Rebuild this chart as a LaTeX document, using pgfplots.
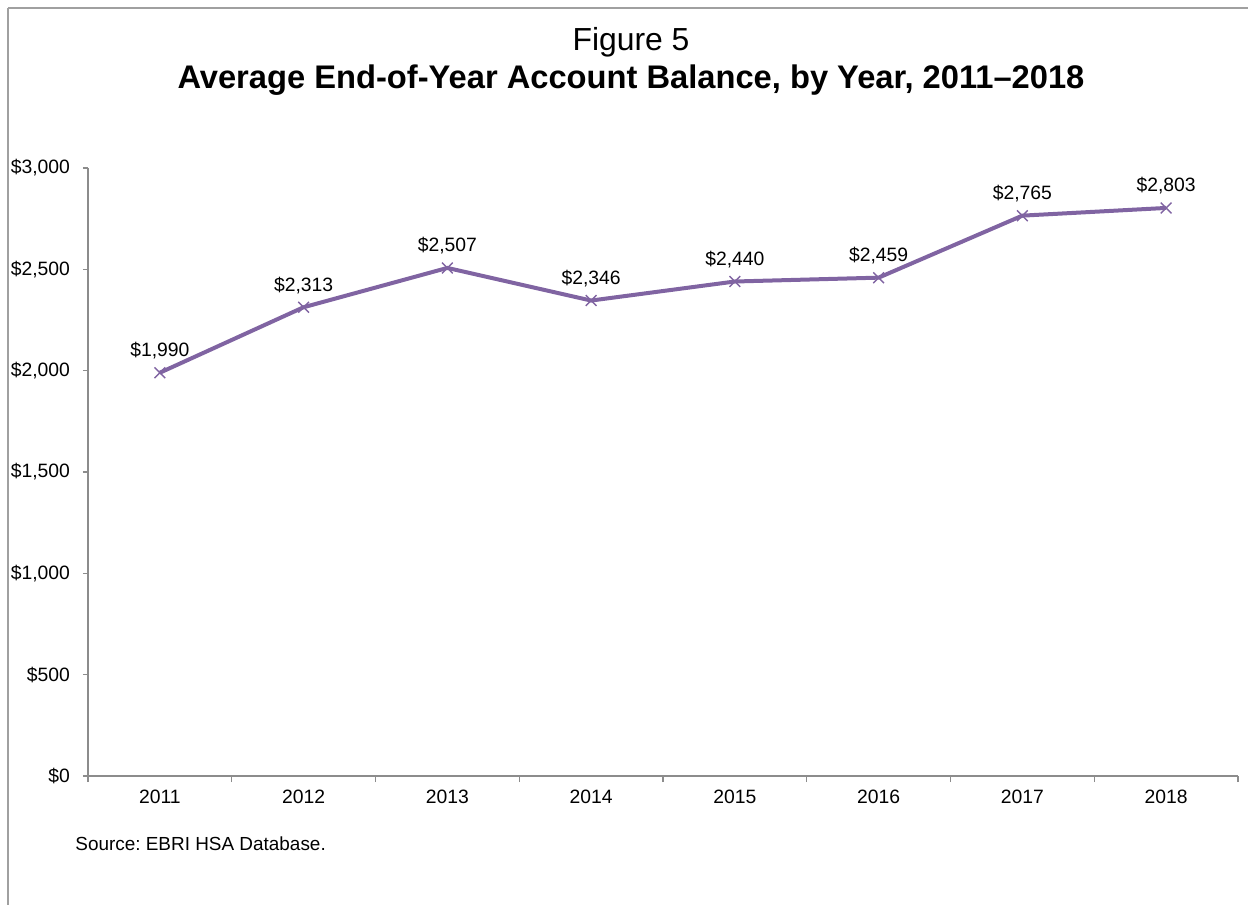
\documentclass[border=0pt]{standalone}
\usepackage{fontspec}
\setmainfont{Liberation Sans}
\usepackage{pgfplots}
\pgfplotsset{compat=1.18}
\definecolor{linepurple}{HTML}{8064A2}
\definecolor{axgray}{HTML}{8C8C8C}
\definecolor{framegray}{HTML}{A0A0A0}
\begin{document}
\begin{tikzpicture}
\path[use as bounding box] (0,0) rectangle (624bp,-452.5bp);
\draw[framegray, line width=0.7bp] (4bp,-4bp) -- (624bp,-4bp);
\draw[framegray, line width=0.7bp] (4bp,-4bp) -- (4bp,-452.5bp);
\node[anchor=base, font=\fontsize{16}{19}\selectfont] at (315.5bp,-25bp) {Figure 5};
\node[anchor=base, font=\fontsize{16.4}{19}\selectfont\bfseries] at (315.5bp,-44bp) {Average End-of-Year Account Balance, by Year, 2011--2018};
\node[anchor=base west, inner sep=0pt, font=\fontsize{9.5}{11}\selectfont] at (37.5bp,-425bp) {\frenchspacing Source: EBRI HSA Database.};
\begin{axis}[
  at={(44bp,-388bp)}, anchor=south west,
  scale only axis, width=575bp, height=304bp,
  xmin=-0.5, xmax=7.5, ymin=0, ymax=3000,
  axis lines*=left,
  axis line style={axgray, line width=0.6bp},
  xtick={0,...,7},
  xticklabels={2011,2012,2013,2014,2015,2016,2017,2018},
  minor xtick={-0.5,0.5,...,7.5},
  ytick={0,500,...,3000},
  tick align=outside,
  major x tick style={draw=none},
  minor tick style={axgray, line width=0.6bp},
  major y tick style={axgray, line width=0.6bp},
  minor tick length=3bp,
  major tick length=2.5bp,
  /pgf/number format/assume math mode=true,
  /pgf/number format/1000 sep={,},
  yticklabel={\$\pgfmathprintnumber{\tick}},
  ticklabel style={font=\fontsize{9.7}{11}\selectfont},
  xticklabel style={yshift=-1bp},
  yticklabel style={xshift=-3bp},
  clip=false,
]
\addplot[linepurple, line width=2bp, mark=x, mark size=3.8bp,
  mark options={line width=0.7bp, solid},
  nodes near coords={\$\pgfmathprintnumber{\pgfplotspointmeta}},
  nodes near coords style={black, font=\fontsize{9.7}{11}\selectfont, anchor=base, yshift=8bp},
  point meta=explicit]
coordinates {
  (0,1990) [1990]
  (1,2313) [2313]
  (2,2507) [2507]
  (3,2346) [2346]
  (4,2440) [2440]
  (5,2459) [2459]
  (6,2765) [2765]
  (7,2803) [2803]
};
\end{axis}
\end{tikzpicture}
\end{document}
